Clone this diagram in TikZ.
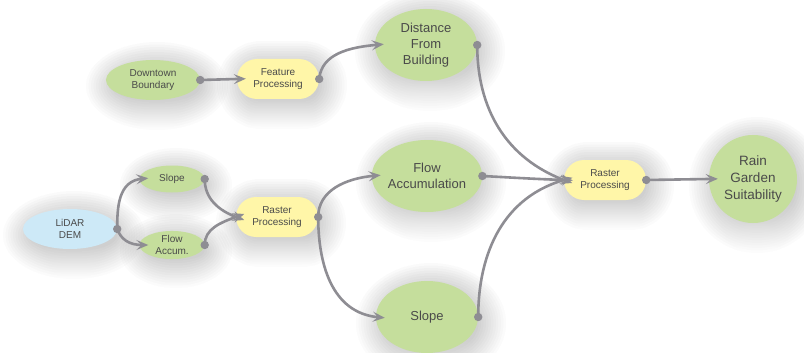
\documentclass[tikz,border=0pt]{standalone}
\usepackage{fontspec}
\setmainfont{Liberation Sans}
\usetikzlibrary{arrows.meta,shapes.geometric,shapes.misc}
\definecolor{leaf}{HTML}{C5DE9C}
\definecolor{butter}{HTML}{FFF6A8}
\definecolor{sky}{HTML}{CDE9F7}
\definecolor{wire}{HTML}{8E8D93}
\definecolor{ink}{HTML}{4A4A4A}
\definecolor{shade}{HTML}{7F8F62}
\pgfdeclarelayer{back}
\pgfsetlayers{back,main}
% soft halo under an elliptic node: node name, half width, half height
\newcommand\hazeoval[3]{%
  \foreach \k in {1,...,12}
    \fill[shade,opacity=0.013,shift={(#1.center)}] (4,-6)
      ellipse [x radius={#2-6+2.5*\k}, y radius={#3-6+2.5*\k}];}
% soft halo under a pill-shaped node: node name, half width, half height
\newcommand\hazepill[3]{%
  \foreach \k in {1,...,12}
    \fill[shade,opacity=0.013,shift={(#1.center)},rounded corners={#3-6+2.5*\k}]
      ({4-#2+6-2.5*\k},{-6-#3+6-2.5*\k}) rectangle ({4+#2-6+2.5*\k},{-6+#3-6+2.5*\k});}
\begin{document}
\begin{tikzpicture}[x=1pt,y=1pt,
  bigdata/.style={ellipse,fill=leaf,inner sep=0pt,minimum width=102pt,minimum height=72pt,
    align=center,text=ink,font=\fontsize{13}{16}\selectfont},
  smalldata/.style={ellipse,fill=leaf,inner sep=0pt,minimum width=65pt,minimum height=27pt,
    align=center,text=ink,font=\fontsize{10}{12.5}\selectfont},
  middata/.style={ellipse,fill=leaf,inner sep=0pt,minimum width=94pt,minimum height=40pt,
    align=center,text=ink,font=\fontsize{10}{12.5}\selectfont},
  source/.style={middata,fill=sky},
  tool/.style={rounded rectangle,fill=butter,inner sep=0pt,minimum width=82pt,minimum height=40pt,
    align=center,text=ink,font=\fontsize{10}{12.5}\selectfont},
  result/.style={ellipse,fill=leaf,inner sep=0pt,minimum width=88pt,minimum height=88pt,
    align=center,text=ink,font=\fontsize{13.5}{17}\selectfont},
  link/.style={draw=wire,line width=2.6pt,shorten >=-9pt,
    -{Stealth[length=12pt,width=10pt,inset=5pt]}},
  port/.style={fill=wire}]
\useasboundingbox (0,0) rectangle (804,-353);

% upper branch
\node[middata] (dt) at (153,-80) {Downtown\\Boundary};
\node[tool] (fp) at (278,-79) {Feature\\Processing};
\node[bigdata] (dist) at (426,-45) {Distance\\From\\Building};

% elevation branch
\node[source] (lidar) at (70,-229) {LiDAR\\DEM};
\node[smalldata] (sl) at (172,-179) {Slope};
\node[smalldata] (fa) at (172,-245) {Flow\\Accum.};
\node[tool] (rp1) at (277,-217) {Raster\\Processing};
\node[bigdata] (flow) at (427,-176) {Flow\\Accumulation};
\node[bigdata] (slope) at (427,-317) {Slope};

% overlay
\node[tool] (rp2) at (605,-180) {Raster\\Processing};
\node[result] (rain) at (753,-179) {Rain\\Garden\\Suitability};

% page and soft shadows behind everything
\begin{pgfonlayer}{back}
  \fill[white] (0,0) rectangle (804,-353);
  \hazeoval{dt}{47}{20}
  \hazeoval{lidar}{47}{20}
  \hazeoval{sl}{32}{13}
  \hazeoval{fa}{32}{13}
  \hazeoval{dist}{51}{36}
  \hazeoval{flow}{51}{36}
  \hazeoval{slope}{51}{36}
  \hazeoval{rain}{44}{44}
  \hazepill{fp}{41}{20}
  \hazepill{rp1}{41}{20}
  \hazepill{rp2}{41}{20}
\end{pgfonlayer}

% connectors
\draw[link] (dt.east) -- (fp.west);
\draw[link] (fp.east) to[out=85,in=185] (dist.west);
\draw[link] (lidar.east) to[out=90,in=185] (sl.west);
\draw[link] (lidar.east) to[out=-70,in=180] (fa.west);
\draw[link] (sl.east) to[out=-90,in=160] (rp1.west);
\draw[link] (fa.east) to[out=90,in=200] (rp1.west);
\draw[link] (rp1.east) to[out=90,in=185] (flow.west);
\draw[link] (rp1.east) to[out=-90,in=175] (slope.west);
\draw[link] (dist.east) to[out=-90,in=160] (rp2.west);
\draw[link] (flow.east) to[out=-3,in=178] (rp2.west);
\draw[link] (slope.east) to[out=90,in=195] (rp2.west);
\draw[link] (rp2.east) -- (rain.west);

% output ports
\foreach \n in {dt,fp,dist,lidar,sl,fa,rp1,flow,slope,rp2}
  \fill[port] (\n.east) circle (4.2pt);
\end{tikzpicture}
\end{document}
